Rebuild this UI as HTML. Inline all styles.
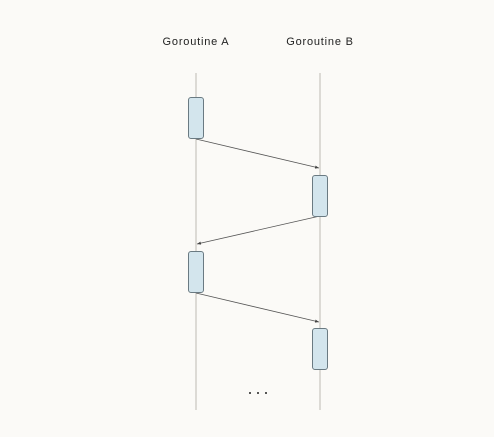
<!DOCTYPE html>
<html><head><meta charset="utf-8"><style>
html,body{margin:0;padding:0;background:#fbfaf7;}
svg{display:block;}
text{font-family:"Liberation Sans",sans-serif;fill:#222;}
</style></head><body>
<svg width="494" height="437" viewBox="0 0 494 437">
<defs><marker id="ah" markerWidth="6" markerHeight="6" refX="5" refY="3" orient="auto"><path d="M0,1 L5,3 L0,5 Z" fill="#444"/></marker></defs>
<text x="196" y="45" font-size="11" text-anchor="middle" letter-spacing="0.8">Goroutine A</text>
<text x="320" y="45" font-size="11" text-anchor="middle" letter-spacing="0.8">Goroutine B</text>
<line x1="196" y1="73" x2="196" y2="410" stroke="#dcdad5" stroke-width="2"/>
<line x1="320" y1="73" x2="320" y2="410" stroke="#dcdad5" stroke-width="2"/>
<line x1="196" y1="139" x2="319" y2="168" stroke="#555" stroke-width="0.8" marker-end="url(#ah)"/>
<line x1="320" y1="216" x2="197" y2="244" stroke="#555" stroke-width="0.8" marker-end="url(#ah)"/>
<line x1="196" y1="293" x2="319" y2="322" stroke="#555" stroke-width="0.8" marker-end="url(#ah)"/>
<rect x="188.5" y="97.5" width="15" height="41" rx="2.5" fill="#d3e5ed" stroke="#6a7a82"/>
<rect x="312.5" y="175.5" width="15" height="41" rx="2.5" fill="#d3e5ed" stroke="#6a7a82"/>
<rect x="188.5" y="251.5" width="15" height="41" rx="2.5" fill="#d3e5ed" stroke="#6a7a82"/>
<rect x="312.5" y="328.5" width="15" height="41" rx="2.5" fill="#d3e5ed" stroke="#6a7a82"/>
<g fill="#222">
<circle cx="250" cy="393" r="1"/><circle cx="258" cy="393" r="1"/><circle cx="266" cy="393" r="1"/>
</g>
</svg>
</body></html>
